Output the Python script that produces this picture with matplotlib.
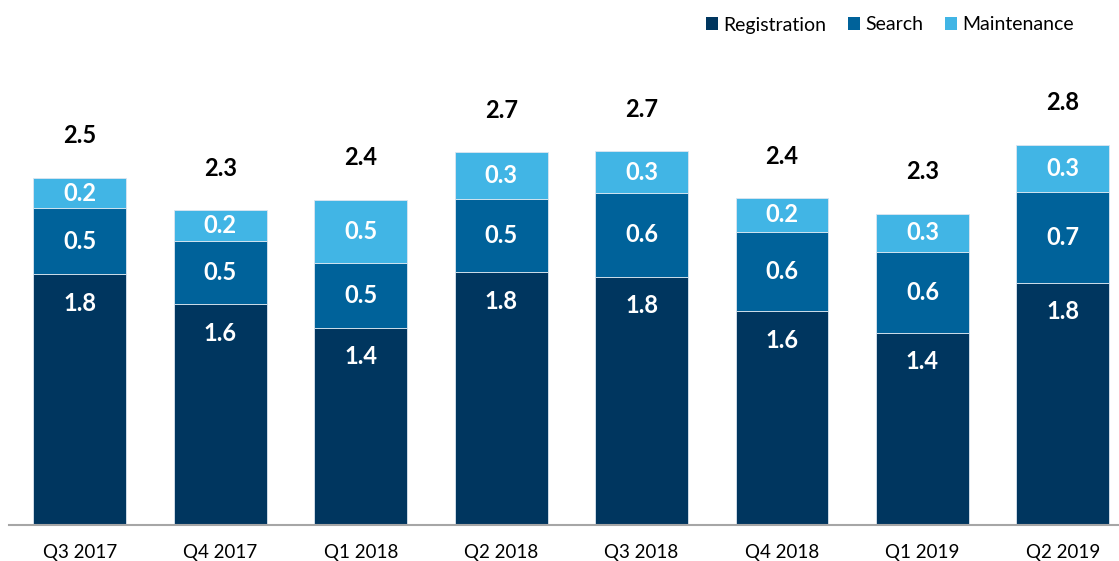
import matplotlib
matplotlib.use("Agg")
import matplotlib.pyplot as plt
from matplotlib.patches import Patch
import numpy as np

plt.rcParams['font.family'] = ['Lato', 'DejaVu Sans']

quarters = ["Q3 2017", "Q4 2017", "Q1 2018", "Q2 2018", "Q3 2018", "Q4 2018", "Q1 2019", "Q2 2019"]
registration = [1.826, 1.607, 1.436, 1.843, 1.807, 1.556, 1.400, 1.763]
search = [0.482, 0.462, 0.474, 0.533, 0.613, 0.581, 0.589, 0.664]
maintenance = [0.223, 0.226, 0.460, 0.341, 0.304, 0.246, 0.280, 0.345]
series_names = ["Registration", "Search", "Maintenance"]
colors = ["#00365F", "#00629A", "#41B5E5"]

W, H = 1119, 561
fig = plt.figure(figsize=(W / 100, H / 100), dpi=100)
ax_left, ax_right = 9, 1119
ax_bottom, ax_top = 524.5, 60
ax = fig.add_axes([ax_left / W, (H - ax_bottom) / H, (ax_right - ax_left) / W, (ax_bottom - ax_top) / H])

k = 137.0  # pixels per unit
x = np.arange(len(quarters))
width = 0.662
bottom = np.zeros(len(quarters))
for i, (vals, name, col) in enumerate(zip([registration, search, maintenance], series_names, colors)):
    vals = np.array(vals)
    ax.bar(x, vals, width, bottom=bottom, color=col, edgecolor="#DCE6F0", linewidth=0.6, label=name)
    for xi, b, v in zip(x, bottom, vals):
        ypos = b + v - 29 / k if i == 0 else b + v / 2
        ax.text(xi, ypos, f"{v:.1f}", ha="center", va="center", color="white",
                fontsize=17, fontweight="bold")
    bottom = bottom + vals

totals = bottom
for xi, t in zip(x, totals):
    ax.text(xi, t + 42 / k, f"{t:.1f}", ha="center", va="center", color="black",
            fontsize=17, fontweight="bold")

ax.set_ylim(0, (ax_bottom - ax_top) / k)
ax.set_xlim(-0.505, 7.4)
ax.set_xticks(x)
ax.set_xticklabels(quarters, fontsize=13.5)
ax.tick_params(axis="x", length=0, pad=14)
ax.set_yticks([])
for s in ["top", "right", "left"]:
    ax.spines[s].set_visible(False)
ax.spines["bottom"].set_color("#A6A6A6")
ax.spines["bottom"].set_linewidth(1.5)

handles = [Patch(facecolor=c, edgecolor="none") for c in colors]
fig.legend(handles, series_names, loc="center right", bbox_to_anchor=(1074 / W, 1 - 25 / H),
           ncol=3, frameon=False, fontsize=14, handlelength=0.6, handleheight=0.6,
           handletextpad=0.3, columnspacing=1.1, borderaxespad=0, borderpad=0)

fig.savefig("out.png", dpi=100)
